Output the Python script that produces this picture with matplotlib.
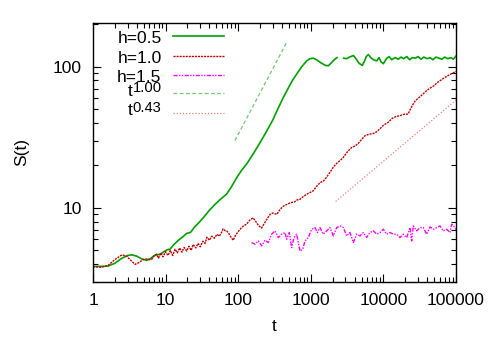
import matplotlib
matplotlib.use("Agg")
import matplotlib.pyplot as plt
import numpy as np
from matplotlib.ticker import LogLocator, NullFormatter

plt.rcParams["font.family"] = ["Liberation Sans", "DejaVu Sans"]

FS = 12.5

# h = 0.5 (gap between ~2300 and ~2800)
t_h05 = [1, 1.3, 1.6, 2.0, 2.5, 3.0, 3.4, 4.0, 4.7, 5.5, 6.3, 7.0, 7.5, 8.5, 9.5,
         10.5, 11.5, 13, 15, 17, 19.5, 22, 25, 29, 33, 40, 48, 58, 69, 80, 95,
         110, 130, 160, 200, 247, 300, 350, 418, 500, 560, 640, 750, 877, 980,
         1080, 1200, 1400, 1600, 1740, 1900, 2100, 2300, np.nan,
         2830, 3100, 3400, 3860, 4200, 4600, 5120, 5500, 5800, 6200, 6700,
         7300, 8100, 8700, 9300, 10000, 11000, 12000, 13000, 14500, 16000,
         17500, 19000, 21000, 23000, 25000, 27500, 30000, 33000, 36000, 40000,
         44000, 48000, 53000, 58000, 64000, 70000, 77000, 85000, 92000, 100000]
s_h05 = [3.85, 3.85, 3.87, 4.05, 4.4, 4.6, 4.65, 4.55, 4.35, 4.25, 4.4, 4.6, 4.65,
         4.7, 4.9, 5.05, 5.1, 5.5, 5.9, 6.2, 6.6, 6.7, 7.3, 7.9, 8.5, 9.6, 10.6,
         11.6, 12.5, 14, 16.3, 18.3, 20.4, 24, 29, 35, 42, 50, 60.5, 72, 80, 88.8,
         100, 110, 114, 115, 112, 106, 102, 101.6, 106, 112, 116, np.nan,
         115, 114, 117, 120, 114, 106, 102, 110, 118, 122, 116,
         112, 110, 116, 108, 105, 114, 118, 112, 116, 113, 117, 114, 118, 112,
         116, 115, 118, 113, 117, 114, 116, 112, 117, 115, 113, 117, 114, 116,
         113, 119]

# h = 1.0
t_h10 = [1, 1.3, 1.6, 2.0, 2.5, 2.9, 3.4, 3.8, 4.3, 4.9, 5.5, 6.0, 6.4, 7.0, 7.5,
         8.0, 8.6, 9.2, 10, 10.8, 11.6, 12.5, 13.5, 14.5, 15.6, 16.8, 18, 19.5,
         21, 22.5, 24, 26, 28, 30, 32.5, 35, 37, 40, 43, 47, 51, 55, 59, 62, 66,
         69, 74, 78, 85, 92, 100, 110, 120, 130, 145, 160, 175, 190, 210, 230,
         255, 275, 300, 340, 380, 420, 470, 530, 590, 650, 710, 800, 880, 960,
         1080, 1200, 1340, 1490, 1650, 1830, 2050, 2300, 2550, 2790, 3200, 3660,
         4100, 4500, 5040, 5600, 6300, 7200, 8000, 9000, 10000, 11600, 13200,
         15000, 16800, 19000, 21900, 23500, 25500, 27500, 31000, 35000, 39200,
         44000, 50000, 55000, 60000, 68000, 76000, 86000, 100000]
s_h10 = [3.82, 3.8, 3.9, 4.3, 4.65, 4.55, 4.2, 3.98, 4.1, 4.3, 4.35, 4.3, 4.3, 4.6,
         4.7, 4.4, 4.8, 4.5, 4.9, 4.6, 5.0, 4.6, 5.1, 4.8, 5.2, 4.85, 5.25, 4.95,
         5.35, 5.0, 5.5, 5.2, 5.6, 5.3, 5.8, 5.6, 6.2, 5.9, 6.3, 6.1, 6.5, 6.3,
         6.7, 7.1, 6.9, 6.9, 6.6, 6.3, 5.9, 6.4, 6.8, 7.2, 7.5, 7.65, 8.2, 8.5,
         8.0, 7.5, 7.2, 7.8, 8.5, 9.0, 9.2, 9.0, 9.8, 10.3, 10.6, 10.9, 11.0,
         11.4, 11.5, 12.1, 12.5, 12.8, 13.2, 14.2, 15.1, 15.5, 16.5, 17.8, 19.5,
         20.8, 21.7, 22.7, 25, 26.8, 27.5, 28.6, 30.7, 32.5, 33.2, 33.6, 34.5,
         36.4, 38.5, 40.3, 43, 44.5, 44.9, 46, 46.2, 50, 54, 57.4, 60.5, 64, 67.6,
         70.5, 73.5, 77, 79.5, 83, 86, 89, 92.6]

# h = 1.5
t_h15 = [153, 170, 189, 211, 234, 260, 289, 321, 357, 397, 441, 465, 506, 545,
         587, 639, 710, 773, 832, 925, 1028, 1143, 1230, 1339, 1488, 1654, 1839,
         2044, 2272, 2525, 2806, 3119, 3467, 3853, 4283, 4761, 5291, 5882, 6538,
         7266, 8077, 8978, 9979, 11093, 12330, 13705, 15234, 16932, 18821,
         20920, 23253, 24512, 25845, 28727, 31931, 35490, 39447, 43850, 48740,
         54170, 60210, 66930, 74380, 82680, 87170, 96880, 100000]
s_h15 = [5.68, 5.53, 5.83, 5.38, 5.90, 5.68, 6.51, 6.87, 6.16, 6.51, 6.69, 6.00,
         6.69, 5.23, 6.16, 6.51, 4.95, 5.09, 5.83, 6.16, 7.06, 7.25, 6.69, 7.25,
         6.51, 6.87, 7.25, 6.33, 7.25, 7.45, 7.25, 6.33, 6.69, 5.68, 6.51, 6.33,
         6.69, 6.16, 6.69, 6.87, 6.51, 6.69, 7.06, 6.51, 6.69, 6.51, 6.51, 6.16,
         6.51, 6.16, 7.25, 5.83, 7.45, 6.87, 7.25, 7.25, 6.51, 7.33, 7.06, 7.25,
         7.45, 6.87, 7.06, 6.69, 7.66, 7.25, 7.0]

# power-law guide lines (end points)
t_fit1 = [90, 470]
s_fit1 = [30, 150]
t_fit043 = [2200, 100000]
s_fit043 = [11.1, 58]

labels = ["h=0.5", "h=1.0", "h=1.5", "t", "t"]
exponents = [None, None, None, "1.00", "0.43"]
colors = ["#00a000", "#c00000", "#ff00ff", "#70c870", "#f08080"]
styles = ["-", (0, (1.5, 0.7)), (0, (3, 1, 1, 1, 1, 1)), (0, (3, 2)), (0, (1, 1.5))]
widths = [1.2, 1.0, 1.0, 0.9, 0.9]

fig = plt.figure(figsize=(4.91, 3.43), dpi=100)
ax = fig.add_axes([93 / 491, 1 - 281.7 / 343, 363 / 491, 259 / 343])

series = [(t_h05, s_h05), (t_h10, s_h10), (t_h15, s_h15),
          (t_fit1, s_fit1), (t_fit043, s_fit043)]
for (t, s), c, ls, lw in zip(series, colors, styles, widths):
    ax.plot(t, s, color=c, linestyle=ls, linewidth=lw)

ax.set_xscale("log")
ax.set_yscale("log")
ax.set_xlim(1, 1e5)
ax.set_ylim(3, 205)

xt = [1, 10, 100, 1000, 10000, 100000]
ax.set_xticks(xt)
ax.set_xticklabels([str(v) for v in xt])
ax.set_yticks([10, 100])
ax.set_yticklabels(["10", "100"])
ax.xaxis.set_minor_locator(LogLocator(base=10, subs=np.arange(2, 10)))
ax.yaxis.set_minor_locator(LogLocator(base=10, subs=np.arange(2, 10)))
ax.xaxis.set_minor_formatter(NullFormatter())
ax.yaxis.set_minor_formatter(NullFormatter())
ax.tick_params(which="both", direction="in", top=True, right=True,
               labelsize=FS, width=0.8)
ax.tick_params(which="major", length=6, pad=8)
ax.tick_params(which="minor", length=3.5)
for sp in ax.spines.values():
    sp.set_linewidth(1.0)

ax.set_xlabel("t", fontsize=FS, labelpad=8)
ax.set_ylabel("S(t)", fontsize=FS, labelpad=17)

# gnuplot style key: labels right-aligned, samples on the right
row_y = [0.949, 0.873, 0.799, 0.727, 0.653]
base_y = [0.9205, 0.8463, 0.7722, 0.717, 0.6436]
sup_y = [None, None, None, 0.7324, 0.6571]
for i in range(len(labels)):
    ax.plot([0.221, 0.361], [row_y[i], row_y[i]], color=colors[i],
            linestyle=styles[i], linewidth=widths[i], transform=ax.transAxes)
    if exponents[i] is None:
        ax.text(0.189, base_y[i], labels[i], ha="right", va="baseline",
                fontsize=FS, transform=ax.transAxes)
    else:
        ax.text(0.189, sup_y[i], exponents[i], ha="right", va="baseline",
                fontsize=FS * 0.85, transform=ax.transAxes)
        ax.text(0.110, base_y[i], labels[i], ha="right", va="baseline",
                fontsize=FS, transform=ax.transAxes)

fig.savefig("out.png", dpi=100)
